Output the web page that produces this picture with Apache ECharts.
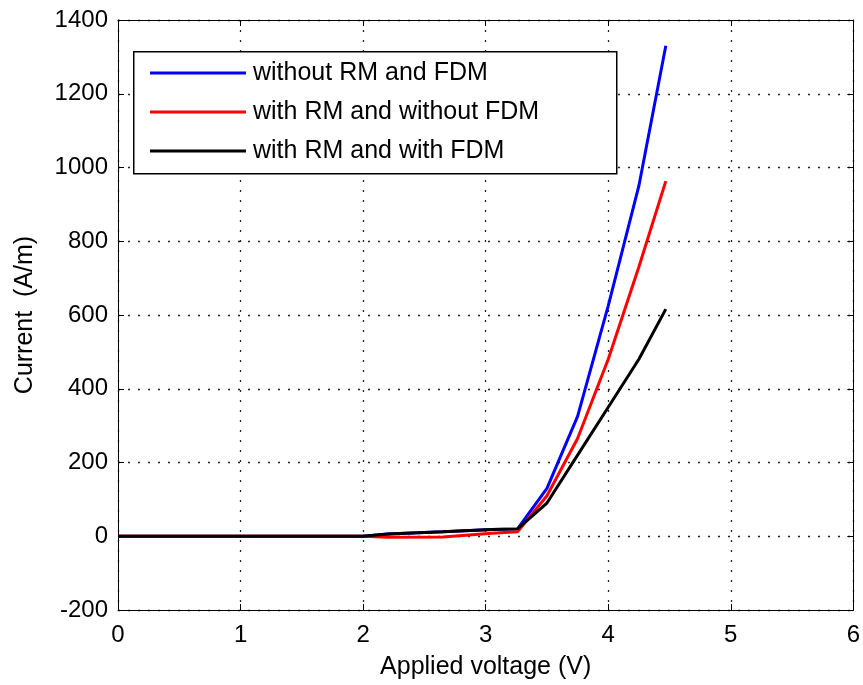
<!DOCTYPE html>
<html>
<head>
<meta charset="utf-8">
<script src="https://cdn.jsdelivr.net/npm/echarts@6/dist/echarts.min.js"></script>
<style>html,body{margin:0;padding:0;background:#fff}#c{width:863px;height:685px}</style>
</head>
<body>
<div id="c"></div>
<script>
const voltage = [0, 0.5, 1, 1.5, 2, 2.2, 2.65, 3.05, 3.26, 3.5, 3.75, 4.0, 4.25, 4.47];
const withoutRMandFDM = [0, 0, 0, 0, 0, 6, 12, 18, 20, 130, 325, 625, 950, 1330];
const withRMwithoutFDM = [0, 0, 0, 0, 0, -3, -2, 8, 12, 110, 265, 480, 730, 963];
const withRMwithFDM = [0, 0, 0, 0, 0, 6, 12, 18, 20, 90, 220, 350, 480, 616];
const seriesNames = ['without RM and FDM', 'with RM and without FDM', 'with RM and with FDM'];
const xTicks = [0, 1, 2, 3, 4, 5, 6];
const yTicks = [-200, 0, 200, 400, 600, 800, 1000, 1200, 1400];

const font = 'Liberation Sans, Arial, sans-serif';
const pairs = arr => voltage.map((v, i) => [v, arr[i]]);
const chart = echarts.init(document.getElementById('c'));
const axisCommon = {
  axisLine: {show: true, onZero: false, lineStyle: {color: '#000', width: 1}},
  axisTick: {show: true, inside: true, length: 6, lineStyle: {color: '#000'}},
  splitLine: {show: false}
};
const gridDots = {show: true, lineStyle: {color: '#222', type: [2, 8], width: 1.3}};
chart.setOption({
  animation: false,
  backgroundColor: '#fff',
  grid: {left: 118, top: 20, right: 8, bottom: 73, containLabel: false},
  xAxis: [
    Object.assign({}, axisCommon, {
      type: 'value', min: xTicks[0], max: xTicks[xTicks.length - 1], interval: 1,
      name: 'Applied voltage (V)', nameLocation: 'middle', nameGap: 45,
      nameTextStyle: {fontFamily: font, fontSize: 25, color: '#000'},
      axisLabel: {fontFamily: font, fontSize: 24, color: '#000', margin: 13, formatter: v => String(v)},
      splitLine: gridDots
    }),
    Object.assign({}, axisCommon, {
      type: 'value', position: 'top', min: xTicks[0], max: xTicks[xTicks.length - 1], interval: 1,
      axisLabel: {show: false}
    })
  ],
  yAxis: [
    Object.assign({}, axisCommon, {
      type: 'value', min: yTicks[0], max: yTicks[yTicks.length - 1], interval: 200,
      name: 'Current  (A/m)', nameLocation: 'middle', nameGap: 80, nameRotate: 90,
      nameTextStyle: {fontFamily: font, fontSize: 25, color: '#000'},
      axisLabel: {fontFamily: font, fontSize: 24, color: '#000', margin: 10, formatter: v => String(v)},
      splitLine: gridDots
    }),
    Object.assign({}, axisCommon, {
      type: 'value', position: 'right', min: yTicks[0], max: yTicks[yTicks.length - 1], interval: 200,
      axisLabel: {show: false}
    })
  ],
  graphic: [{
    type: 'rect', left: 133, top: 51, z: 90,
    shape: {width: 483, height: 122},
    style: {fill: '#fff', stroke: '#000', lineWidth: 1.5}
  }],
  legend: {
    orient: 'vertical', left: 150, top: 60, z: 100,
    itemWidth: 96, itemHeight: 3, itemGap: 13, icon: 'rect',
    padding: 0,
    textStyle: {fontFamily: font, fontSize: 25, color: '#000', lineHeight: 26, padding: [0, 0, 0, 2]},
    data: seriesNames
  },
  series: [
    {name: seriesNames[0], type: 'line', data: pairs(withoutRMandFDM), showSymbol: false, symbol: 'none',
     lineStyle: {color: '#0000ff', width: 3}, itemStyle: {color: '#0000ff'}, z: 2},
    {name: seriesNames[1], type: 'line', data: pairs(withRMwithoutFDM), showSymbol: false, symbol: 'none',
     lineStyle: {color: '#ff0000', width: 3}, itemStyle: {color: '#ff0000'}, z: 3},
    {name: seriesNames[2], type: 'line', data: pairs(withRMwithFDM), showSymbol: false, symbol: 'none',
     lineStyle: {color: '#000000', width: 3}, itemStyle: {color: '#000000'}, z: 4}
  ]
});
</script>
</body>
</html>
